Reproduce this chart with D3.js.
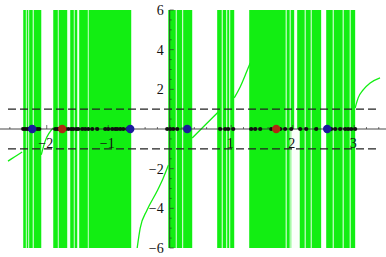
<!DOCTYPE html>
<html><head><meta charset="utf-8">
<script src="https://cdn.jsdelivr.net/npm/d3@7"></script>
<style>html,body{margin:0;padding:0;background:#fff;}svg{display:block;}</style>
</head><body>
<script>
// ---- data ----
const bands = [[-2.382,-2.089],[-1.894,-0.626],[-0.024,0.366],[0.772,1.049],[1.293,2.463],[2.545,3.016]];
const gaps = [[-2.340,-2.326],[-2.300,-2.286],[-2.228,-2.212],
  [-1.820,-1.806],[-1.667,-1.618],[-1.560,-1.546],[-1.504,-1.472],[-1.332,-1.318],
  [0.098,0.114],[0.203,0.219],
  [0.846,0.862],[0.919,0.935],[0.968,0.984],
  [1.886,1.902],[1.951,1.967],[2.024,2.073],[2.195,2.211],[2.293,2.309],
  [2.651,2.667],[2.813,2.829],[2.927,2.943]];
// gaps visible only in the lower half (x0, x1, yTop, yBottom)
const lowerGaps = [[1.976,2.115,0,-6]];
const curves = [
  [[-2.63,-1.62],[-2.52,-1.40],[-2.40,-1.16]],
  [[-2.089,-1.30],[-2.024,-0.60],[-1.894,0.05]],
  [[-0.529,-6.0],[-0.48,-5.0],[-0.37,-4.1],[-0.20,-3.1],[-0.106,-2.48],[-0.02,-1.82]],
  [[0.366,-0.45],[0.593,0.25],[0.789,0.86]],
  [[1.049,1.57],[1.146,2.12],[1.244,2.83],[1.309,3.33]],
  [[3.016,1.06],[3.065,1.57],[3.146,1.97],[3.26,2.32],[3.42,2.58]]
];
const blackDots = [-2.382,-2.350,-2.317,-2.285,-2.154,-2.122,-1.862,-1.829,-1.797,-1.699,-1.650,-1.602,-1.569,-1.520,-1.488,-1.423,-1.374,-1.325,-1.260,-1.179,-1.049,-1.000,-0.935,-0.886,-0.854,-0.805,-0.756,-0.691,-0.041,0.008,0.057,0.122,0.821,0.902,0.951,1.033,1.325,1.390,1.472,1.650,1.797,1.878,1.976,2.122,2.220,2.382,2.626,2.691,2.772,2.854,2.902,2.951,3.016];
const blueDots = [-2.236,-0.642,0.285,2.561];
const redDots = [-1.748,1.732];
const dashLevels = [1,-1];
const xTickLabels = [-2,-1,1,2,3];
const yTickLabels = [-6,-4,-2,2,4,6];

// ---- layout ----
const W = 386, H = 257;
const x = d3.scaleLinear().domain([-2.63, 3.42]).range([8, 380]);
const y = d3.scaleLinear().domain([-6, 6]).range([248, 10]);
const green = "#12ee12";
const fmt = v => (v < 0 ? "\u2212" : "") + Math.abs(v);

const svg = d3.select("body").append("svg").attr("width", W).attr("height", H);

// bands
svg.append("g").selectAll("rect").data(bands).join("rect")
  .attr("x", d => x(d[0])).attr("width", d => x(d[1]) - x(d[0]))
  .attr("y", y(6)).attr("height", y(-6) - y(6)).attr("fill", green);
svg.append("g").selectAll("rect").data(gaps).join("rect")
  .attr("x", d => x(d[0])).attr("width", d => x(d[1]) - x(d[0]))
  .attr("y", y(6)).attr("height", y(-6) - y(6)).attr("fill", "#f4fff4");
svg.append("g").selectAll("rect").data(lowerGaps).join("rect")
  .attr("x", d => x(d[0])).attr("width", d => x(d[1]) - x(d[0]))
  .attr("y", d => y(d[2])).attr("height", d => y(d[3]) - y(d[2])).attr("fill", "#fafffa");

// curves
const line = d3.line().x(d => x(d[0])).y(d => y(d[1])).curve(d3.curveMonotoneX);
svg.append("g").selectAll("path").data(curves).join("path")
  .attr("d", line).attr("fill", "none").attr("stroke", green).attr("stroke-width", 1.3);

// dashed lines
svg.append("g").selectAll("line").data(dashLevels).join("line")
  .attr("x1", x(-2.63)).attr("x2", x(3.42))
  .attr("y1", d => y(d)).attr("y2", d => y(d))
  .attr("stroke", "#222").attr("stroke-width", 1.1).attr("stroke-dasharray", "8,4");

// x axis
const ax = svg.append("g").attr("stroke", "#333");
ax.append("line").attr("x1", 0).attr("x2", W).attr("y1", y(0)).attr("y2", y(0)).attr("stroke-width", 0.9);
const xMinor = d3.range(-26, 35).map(i => i / 10).filter(v => Math.abs(v*5 - Math.round(v*5)) < 1e-6);
ax.selectAll(".xt").data(xMinor).join("line")
  .attr("x1", d => x(d)).attr("x2", d => x(d))
  .attr("y1", y(0)).attr("y2", d => y(0) - (Math.abs(d - Math.round(d)) < 1e-6 ? 4 : 2))
  .attr("stroke-width", 0.7);
// y axis
ax.append("line").attr("x1", x(0)).attr("x2", x(0)).attr("y1", y(6)).attr("y2", y(-6)).attr("stroke-width", 0.9);
const yMinor = d3.range(-12, 13).map(i => i / 2);
ax.selectAll(".yt").data(yMinor).join("line")
  .attr("y1", d => y(d)).attr("y2", d => y(d))
  .attr("x1", x(0)).attr("x2", d => x(0) + (d % 2 === 0 ? 4 : 2))
  .attr("stroke-width", 0.7);

const tf = "'Liberation Serif', 'DejaVu Serif', serif";
svg.append("g").selectAll("text").data(xTickLabels).join("text")
  .attr("x", d => x(d) - 1).attr("y", y(0) + 19)
  .attr("text-anchor", "middle").attr("font-family", tf).attr("font-size", 14).attr("fill", "#111")
  .text(fmt);
svg.append("g").selectAll("text").data(yTickLabels).join("text")
  .attr("x", x(0) - 6).attr("y", d => y(d) + 5)
  .attr("text-anchor", "end").attr("font-family", tf).attr("font-size", 14).attr("fill", "#111")
  .text(fmt);

// dots
svg.append("g").selectAll("circle").data(blackDots).join("circle")
  .attr("cx", d => x(d)).attr("cy", y(0)).attr("r", 2.1).attr("fill", "#111");
svg.append("g").selectAll("circle").data(blueDots).join("circle")
  .attr("cx", d => x(d)).attr("cy", y(0)).attr("r", 4.2).attr("fill", "#1a1a9c");
svg.append("g").selectAll("circle").data(redDots).join("circle")
  .attr("cx", d => x(d)).attr("cy", y(0)).attr("r", 4.2).attr("fill", "#b02a12");
</script>
</body></html>
